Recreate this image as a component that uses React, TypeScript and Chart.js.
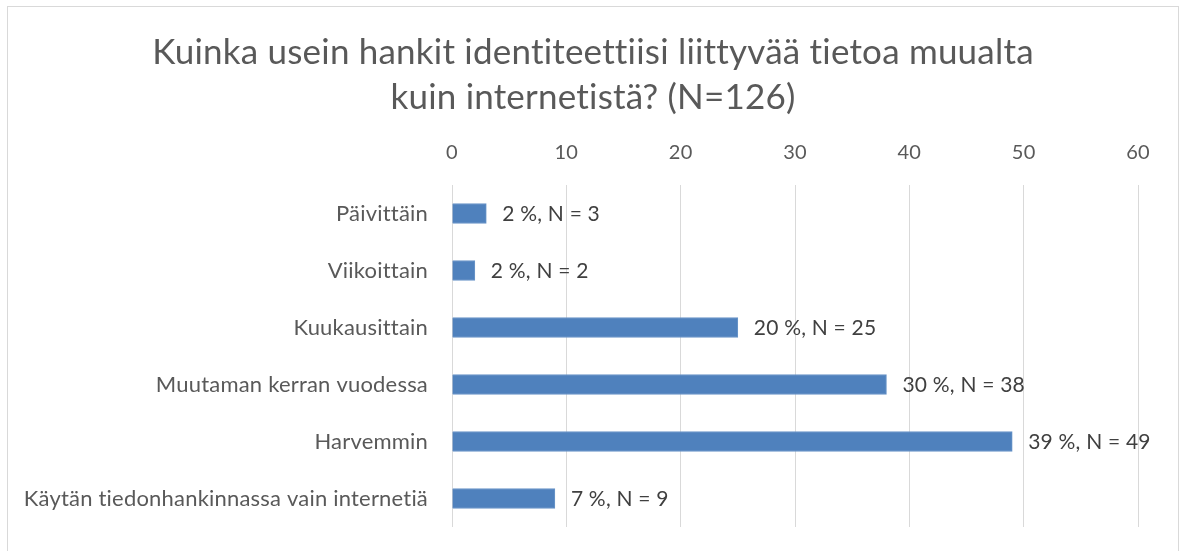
import React, { useEffect, useRef } from "react";
import { Chart, registerables } from "chart.js";

Chart.register(...registerables);

const categories = [
  "Päivittäin",
  "Viikoittain",
  "Kuukausittain",
  "Muutaman kerran vuodessa",
  "Harvemmin",
  "Käytän tiedonhankinnassa vain internetiä",
];
const counts = [3, 2, 25, 38, 49, 9];
const percents = [2, 2, 20, 30, 39, 7];
const xTicks = [0, 10, 20, 30, 40, 50, 60];
const titleLines = [
  "Kuinka usein hankit identiteettiisi liittyvää tietoa muualta",
  "kuin internetistä? (N=126)",
];

const FONT = "Lato, 'Open Sans', sans-serif";

const noLigatures = {
  id: "noLigatures",
  beforeDraw(chart: any) {
    try {
      (chart.ctx as any).letterSpacing = "0.2px";
    } catch (e) {}
  },
};

const titleDrawer = {
  id: "titleDrawer",
  afterDraw(chart: any) {
    const ctx = chart.ctx;
    ctx.save();
    ctx.font = `35px ${FONT}`;
    ctx.fillStyle = "#595959";
    ctx.textAlign = "center";
    ctx.textBaseline = "middle";
    const cx = 593;
    titleLines.forEach((line, i) => {
      ctx.fillText(line, cx, 53 + i * 45);
    });
    ctx.restore();
  },
};

const valueLabels = {
  id: "valueLabels",
  afterDatasetsDraw(chart: any) {
    const ctx = chart.ctx;
    const meta = chart.getDatasetMeta(0);
    ctx.save();
    ctx.font = `21px ${FONT}`;
    ctx.fillStyle = "#404040";
    ctx.textAlign = "left";
    ctx.textBaseline = "middle";
    meta.data.forEach((bar: any, i: number) => {
      ctx.fillText(`${percents[i]} %, N = ${counts[i]}`, bar.x + 16, bar.y + 1);
    });
    ctx.restore();
  },
};

export default function App() {
  const ref = useRef<HTMLCanvasElement>(null);
  useEffect(() => {
    document.body.style.margin = "0";
    const chart = new Chart(ref.current!, {
      type: "bar",
      data: {
        labels: categories,
        datasets: [
          {
            data: counts,
            backgroundColor: "#4f81bd",
            borderColor: "#6b96c9",
            borderWidth: 1,
            barThickness: 20,
          },
        ],
      },
      options: {
        indexAxis: "y",
        animation: false,
        responsive: false,
        maintainAspectRatio: false,
        layout: { padding: { left: 0, right: 48, top: 120, bottom: 24 } },
        plugins: {
          legend: { display: false },
          tooltip: { enabled: false },
          title: { display: false },
        },
        scales: {
          x: {
            position: "top",
            min: 0,
            max: 60,
            afterBuildTicks(scale: any) {
              scale.ticks = xTicks.map((v) => ({ value: v }));
            },
            afterFit(scale: any) {
              scale.height = 65;
              scale.paddingLeft = 0;
              scale.paddingRight = 0;
            },
            grid: { color: "#d9d9d9", drawTicks: false, lineWidth: 1 },
            border: { display: false },
            ticks: {
              color: "#595959",
              font: { family: FONT, size: 20 },
              padding: 20,
            },
          },
          y: {
            afterFit(scale: any) {
              scale.width = 452;
              scale.paddingTop = 0;
              scale.paddingBottom = 0;
            },
            grid: { display: false, drawTicks: false },
            border: { display: false },
            ticks: {
              color: "#595959",
              font: { family: FONT, size: 22 },
              padding: 24,
            },
          },
        },
      },
      plugins: [noLigatures, valueLabels, titleDrawer],
    });
    return () => chart.destroy();
  }, []);

  return (
    <div style={{ position: "relative", width: 1186, height: 551, overflow: "hidden", background: "#fff" }}>
      <div
        style={{
          position: "absolute",
          left: 7,
          top: 6,
          width: 1172,
          height: 600,
          border: "1px solid #d9d9d9",
          boxSizing: "border-box",
        }}
      />
      <canvas ref={ref} width={1186} height={551} style={{ position: "absolute", left: 0, top: 0 }} />
    </div>
  );
}
